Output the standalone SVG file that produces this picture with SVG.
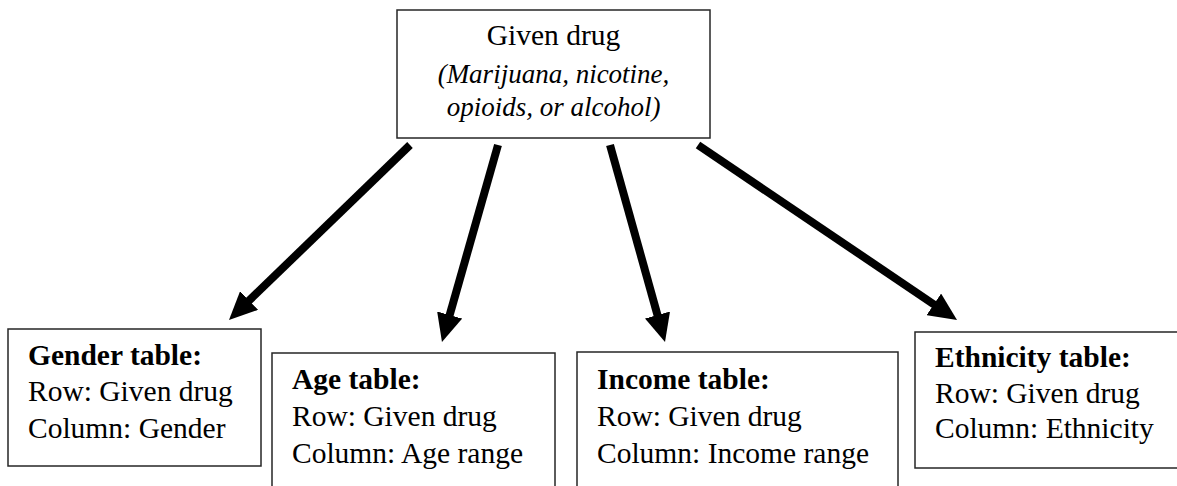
<svg xmlns="http://www.w3.org/2000/svg" width="1177" height="486" viewBox="0 0 1177 486">
<style>
.box{fill:#fff;stroke:#262626;stroke-width:1.5}
text{font-family:'Liberation Serif','DejaVu Serif',serif;font-size:29.5px;fill:#000}
.b{font-weight:bold}
.i{font-style:italic;font-size:27px}
.c{fill:none;stroke:#000;stroke-width:8}
</style>
<defs>
<marker id="ah" viewBox="0 0 28 26" refX="6" refY="13" markerWidth="28" markerHeight="26" markerUnits="userSpaceOnUse" orient="auto">
<path d="M0,0 L28,13 L0,26 z" fill="#000"/>
</marker>
</defs>
<rect width="1177" height="486" fill="#fff"/>
<g id="connectors">
<line class="c" x1="410" y1="145" x2="244.8" y2="304.7" marker-end="url(#ah)"/>
<line class="c" x1="498" y1="145" x2="448" y2="320.8" marker-end="url(#ah)"/>
<line class="c" x1="610" y1="145" x2="659.1" y2="320.8" marker-end="url(#ah)"/>
<line class="c" x1="698" y1="145" x2="938.8" y2="307.7" marker-end="url(#ah)"/>
</g>
<g font-family="Liberation Serif, DejaVu Serif, serif">
<g id="given-drug">
<rect class="box" x="397" y="10" width="313" height="128"/>
<text x="553.5" y="45" text-anchor="middle">Given drug</text>
<text class="i" x="553.5" y="83" text-anchor="middle">(Marijuana, nicotine,</text>
<text class="i" x="553.5" y="116" text-anchor="middle">opioids, or alcohol)</text>
</g>
<g id="gender-table">
<rect class="box" x="8" y="329" width="253" height="137"/>
<text class="b" x="28" y="365">Gender table:</text>
<text x="28" y="401">Row: Given drug</text>
<text x="28" y="438">Column: Gender</text>
</g>
<g id="age-table">
<rect class="box" x="272" y="353" width="283" height="150"/>
<text class="b" x="292" y="389">Age table:</text>
<text x="292" y="426">Row: Given drug</text>
<text x="292" y="463">Column: Age range</text>
</g>
<g id="income-table">
<rect class="box" x="577" y="352" width="321" height="150"/>
<text class="b" x="597" y="389">Income table:</text>
<text x="597" y="426">Row: Given drug</text>
<text x="597" y="463">Column: Income range</text>
</g>
<g id="ethnicity-table">
<rect class="box" x="915" y="332" width="280" height="136"/>
<text class="b" x="935" y="367">Ethnicity table:</text>
<text x="935" y="403">Row: Given drug</text>
<text x="935" y="438">Column: Ethnicity</text>
</g>
</g>
</svg>
